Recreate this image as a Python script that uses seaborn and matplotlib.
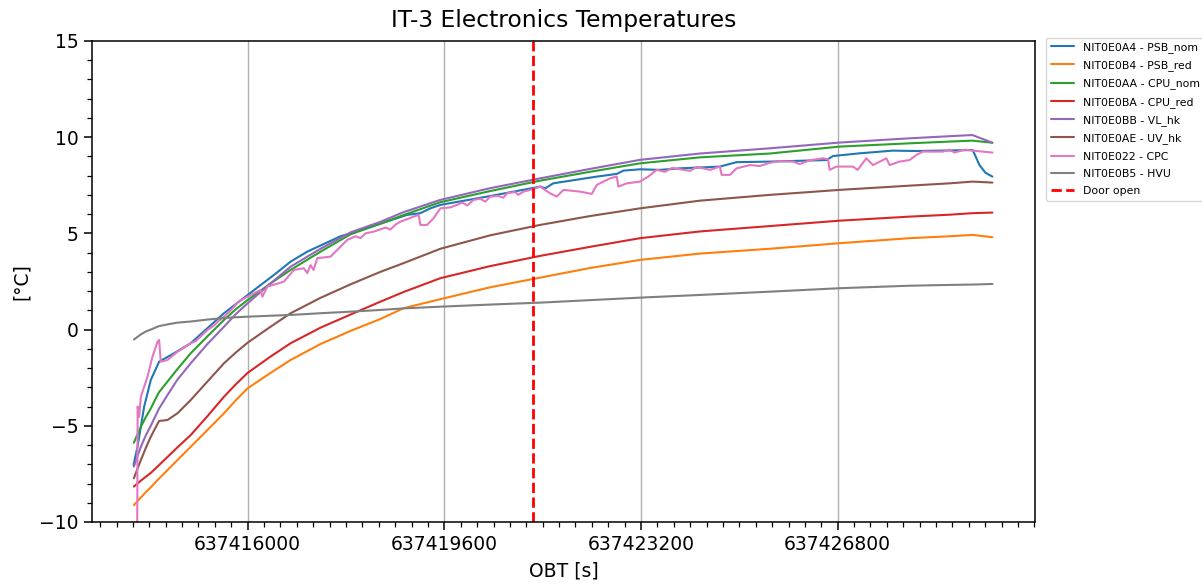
import numpy as np
import pandas as pd
import matplotlib
matplotlib.use("Agg")
import matplotlib.pyplot as plt
import matplotlib.ticker as mticker
import seaborn as sns

T0 = 637416000
DOOR_OPEN = 637421226

# common time offsets (s from T0) for the smooth channels
t_common = [-2083, -1955, -1864, -1773, -1650, -1621, -1467, -1285, -1042, -736, -433,
            -219, 0, 420, 786, 1334, 1882, 2430, 2851, 3527, 4441, 5354, 6268, 7182,
            8278, 9557, 10837, 12116, 12847, 13267, 13632]

psb_red = [-9.12, -8.73, -8.45, -8.20, -7.82, -7.74, -7.30, -6.78, -6.09, -5.22, -4.35,
           -3.68, -3.05, -2.25, -1.58, -0.75, -0.07, 0.55, 1.11, 1.58, 2.20, 2.70, 3.20,
           3.62, 3.95, 4.20, 4.49, 4.75, 4.85, 4.92, 4.80]
cpu_nom = [-5.88, -5.05, -4.55, -4.10, -3.40, -3.25, -2.70, -2.05, -1.23, -0.35, 0.50,
           1.05, 1.54, 2.40, 3.10, 4.05, 4.95, 5.50, 5.95, 6.62, 7.20, 7.74, 8.20,
           8.64, 8.95, 9.15, 9.51, 9.68, 9.77, 9.82, 9.71]
cpu_red = [-8.16, -7.85, -7.65, -7.45, -7.12, -7.04, -6.62, -6.12, -5.48, -4.50, -3.49,
           -2.85, -2.25, -1.40, -0.71, 0.10, 0.78, 1.45, 1.95, 2.67, 3.30, 3.83, 4.30,
           4.75, 5.10, 5.38, 5.66, 5.87, 5.97, 6.05, 6.08]
vl_hk = [-7.12, -6.09, -5.50, -5.00, -4.27, -4.10, -3.40, -2.60, -1.75, -0.75, 0.15,
         0.80, 1.37, 2.40, 3.27, 4.20, 5.05, 5.60, 6.10, 6.74, 7.35, 7.86, 8.35,
         8.82, 9.15, 9.42, 9.72, 9.94, 10.05, 10.11, 9.71]
uv_hk = [-7.73, -6.78, -6.15, -5.57, -4.90, -4.75, -4.70, -4.35, -3.66, -2.70, -1.75,
         -1.20, -0.68, 0.15, 0.85, 1.65, 2.35, 3.00, 3.45, 4.20, 4.90, 5.44, 5.90,
         6.30, 6.70, 7.00, 7.26, 7.48, 7.60, 7.69, 7.64]
hvu = [-0.52, -0.25, -0.10, 0.00, 0.15, 0.18, 0.27, 0.36, 0.42, 0.52, 0.60,
       0.64, 0.67, 0.72, 0.76, 0.85, 0.93, 1.02, 1.10, 1.19, 1.30, 1.40, 1.53,
       1.66, 1.80, 1.97, 2.15, 2.28, 2.32, 2.34, 2.37]

# PSB_nom
t_psb_nom = [-2089, -2016, -1895, -1773, -1621, -1347, -1042, -433, 0, 481, 786, 1091,
             1700, 1882, 2918, 3161, 3344, 3527, 4441, 5354, 5446, 5592, 6391, 6756,
             6877, 7182, 7547, 7913, 8644, 8949, 9557, 10594, 10715, 11203, 11805,
             12238, 13272, 13395, 13504, 13632]
psb_nom = [-7.04, -6.09, -4.01, -2.62, -1.67, -1.23, -0.71, 0.85, 1.80, 2.84, 3.53, 4.05,
           4.85, 5.00, 5.96, 6.05, 6.30, 6.48, 6.94, 7.43, 7.34, 7.60, 7.95, 8.09,
           8.26, 8.33, 8.30, 8.38, 8.47, 8.70, 8.73, 8.81, 9.02, 9.16, 9.30,
           9.28, 9.33, 8.55, 8.15, 7.95]

# CPC (noisy channel)
t_cpc = [-2022, -2014, -1986, -1955, -1833, -1742, -1650, -1621, -1590, -1467, -1285,
         -1170, -1115, -1042, -950, -859, -736, -621, -530, -433, -311, -164, -5,
         238, 269, 360, 663, 846, 1029, 1091, 1151, 1206, 1274, 1389, 1517, 1639,
         1822, 1974, 2065, 2156, 2308, 2522, 2613, 2705, 2796, 3039, 3130, 3161,
         3284, 3404, 3527, 3710, 3832, 3929, 4020, 4136, 4258, 4349, 4441, 4587,
         4678, 4746, 4897, 4952, 5049, 5172, 5354, 5537, 5659, 5780, 6085, 6299,
         6391, 6633, 6756, 6785, 6939, 7182, 7333, 7487, 7639, 7766, 7913, 8095,
         8223, 8339, 8461, 8644, 8675, 8826, 8949, 9192, 9375, 9557, 9740, 9984,
         10105, 10288, 10532, 10623, 10654, 10777, 11080, 11165, 11325, 11446,
         11691, 11751, 11933, 12116, 12238, 12358, 12724, 12847, 12938, 13121,
         13272, 13632]
cpc = [-10.5, -4.00, -4.53, -3.49, -2.45, -1.41, -0.63, -0.54, -1.67, -1.58, -1.15,
       -0.95, -0.85, -0.71, -0.60, -0.35, -0.02, 0.20, 0.45, 0.67, 1.00, 1.45, 1.71,
       2.06, 1.71, 2.23, 2.49, 3.10, 3.19, 2.93, 3.35, 3.10, 3.71, 3.75, 3.79, 4.14,
       4.66, 4.85, 4.75, 5.00, 5.09, 5.30, 5.20, 5.45, 5.61, 5.87, 5.96, 5.44,
       5.44, 5.79, 6.30, 6.35, 6.48, 6.60, 6.45, 6.74, 6.80, 6.65, 6.91, 6.95,
       6.85, 7.08, 7.15, 7.00, 7.17, 7.26, 7.43, 7.08, 6.91, 7.26, 7.17, 7.05,
       7.52, 7.86, 7.95, 7.43, 7.60, 7.69, 7.95, 8.30, 8.20, 8.40, 8.33, 8.25,
       8.45, 8.38, 8.30, 8.47, 8.04, 8.04, 8.38, 8.55, 8.50, 8.67, 8.75, 8.73,
       8.60, 8.80, 8.90, 8.85, 8.30, 8.47, 8.47, 8.30, 8.90, 8.55,
       8.90, 8.55, 8.73, 8.81, 9.07, 9.25, 9.25, 9.35, 9.20, 9.35,
       9.30, 9.20]

labels = ["NIT0E0A4 - PSB_nom", "NIT0E0B4 - PSB_red", "NIT0E0AA - CPU_nom",
          "NIT0E0BA - CPU_red", "NIT0E0BB - VL_hk", "NIT0E0AE - UV_hk",
          "NIT0E022 - CPC", "NIT0E0B5 - HVU"]

series = [
    (t_psb_nom, psb_nom),
    (t_common, psb_red),
    (t_common, cpu_nom),
    (t_common, cpu_red),
    (t_common, vl_hk),
    (t_common, uv_hk),
    (t_cpc, cpc),
    (t_common, hvu),
]
colors = ["#1f77b4", "#ff7f0e", "#2ca02c", "#d62728", "#9467bd", "#8c564b", "#e377c2", "#7f7f7f"]

sns.set_style("ticks")
plt.rcParams['font.family'] = ['DejaVu Sans']
plt.rcParams['text.color'] = 'black'
plt.rcParams['axes.labelcolor'] = 'black'
plt.rcParams['xtick.color'] = 'black'
plt.rcParams['ytick.color'] = 'black'

fig = plt.figure(figsize=(12.02, 5.85), dpi=100)
ax = fig.add_axes([0.0765, 0.1077, 0.7845, 0.8223])

for (t, v), lab, c in zip(series, labels, colors):
    df = pd.DataFrame({"OBT": np.array(t, dtype=float) + T0, "T": v})
    sns.lineplot(data=df, x="OBT", y="T", ax=ax, color=c, label=lab,
                 estimator=None, sort=False, linewidth=1.5)

ax.axvline(DOOR_OPEN, color="red", linestyle="--", linewidth=2, label="Door open")

ax.set_xlim(T0 - 2850, T0 + 14410)
ax.set_ylim(-10, 15)
ax.xaxis.set_major_locator(mticker.FixedLocator([637416000, 637419600, 637423200, 637426800]))
ax.xaxis.set_major_formatter(mticker.FormatStrFormatter("%d"))
ax.xaxis.set_minor_locator(mticker.MultipleLocator(300))
ax.yaxis.set_major_locator(mticker.MultipleLocator(5))
ax.yaxis.set_minor_locator(mticker.MultipleLocator(1))
ax.grid(axis="x", which="major", color="#b0b0b0", linewidth=1)
ax.tick_params(axis="both", which="major", labelsize=13.5, length=6, width=1.1,
               direction="out", colors="black")
ax.tick_params(axis="both", which="minor", length=3.5, width=0.9, direction="out", colors="black")
for s in ax.spines.values():
    s.set_color("black")
    s.set_linewidth(1.1)

ax.set_xlabel("OBT [s]", fontsize=13.5, labelpad=5)
ax.set_ylabel("[°C]", fontsize=13.5, labelpad=6)
ax.set_title("IT-3 Electronics Temperatures", fontsize=16.8, pad=10)

leg = ax.legend(loc="upper left", bbox_to_anchor=(1.012, 1.007), fontsize=7.8,
                frameon=True, borderaxespad=0, handlelength=2.2, labelspacing=0.68)
leg.get_frame().set_edgecolor("#cccccc")

fig.savefig("out.png", dpi=100)
